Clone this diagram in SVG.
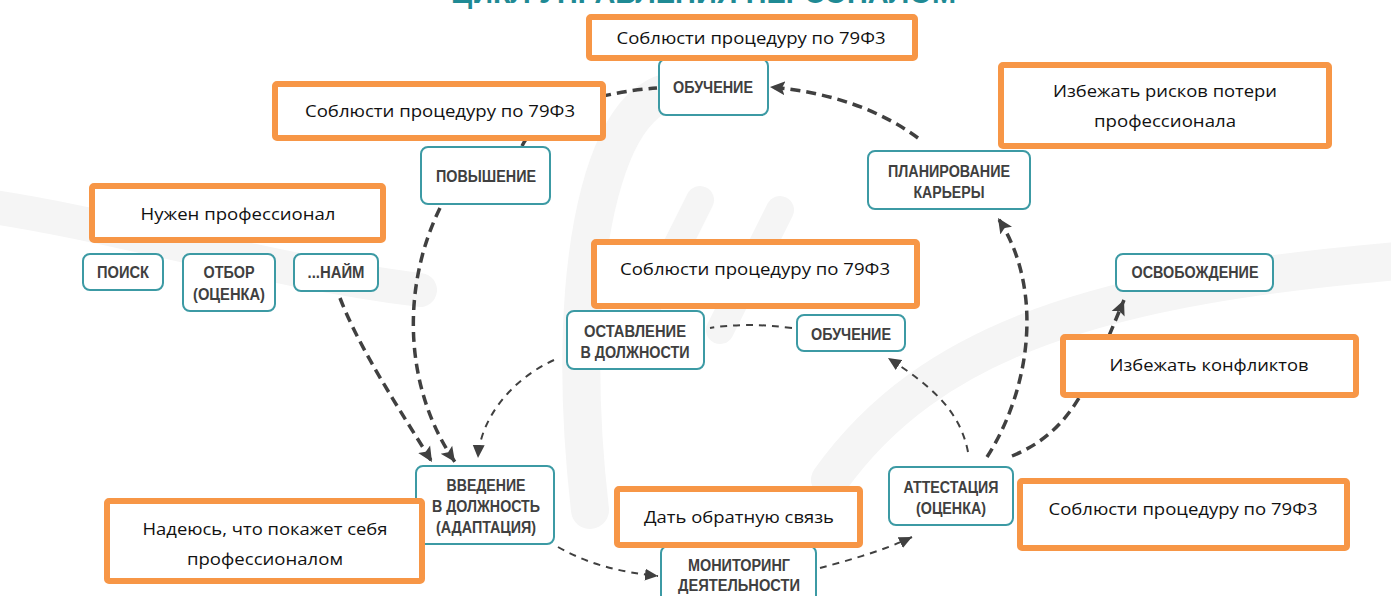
<svg xmlns="http://www.w3.org/2000/svg" width="1391" height="596" viewBox="0 0 1391 596">
<defs>
<style>
.bg{fill:none;stroke:#f5f5f5;stroke-linecap:round}
.node{fill:#fff;stroke:#3c9aa4;stroke-width:2}
.nt{font-family:"Liberation Sans",Arial,sans-serif;font-weight:bold;font-size:16px;fill:#404040;text-anchor:middle}
.ob{fill:#fff;stroke:#f79646;stroke-width:6}
.ot{font-family:"Open Sans","Liberation Sans",sans-serif;font-size:17px;fill:#111;text-anchor:middle}
.thick{fill:none;stroke:#404040;stroke-width:3.5;stroke-dasharray:10 6}
.thin{fill:none;stroke:#404040;stroke-width:2;stroke-dasharray:7 6}
.title{font-family:"Liberation Sans",Arial,sans-serif;font-weight:bold;font-size:30px;fill:#1f8a94}
</style>
<marker id="ah" markerUnits="userSpaceOnUse" markerWidth="16" markerHeight="16" refX="15" refY="8" orient="auto">
<path d="M0,1 L15,8 L0,15 L3,8 z" fill="#404040"/>
</marker>
<marker id="as" markerUnits="userSpaceOnUse" markerWidth="14" markerHeight="14" refX="13" refY="7" orient="auto">
<path d="M0,1 L13,7 L0,13 z" fill="#404040"/>
</marker>
</defs>
<rect width="1391" height="596" fill="#fff"/>
<g id="background">
<path class="bg" stroke-width="34" d="M -20 205 C 120 225, 260 270, 420 290"/>
<path class="bg" stroke-width="38" d="M 700 95 C 610 60, 560 250, 590 510"/>
<path class="bg" stroke-width="38" d="M 830 480 C 930 340, 1100 285, 1410 260"/>
<path class="bg" stroke-width="28" d="M 640 320 L 700 200"/>
<path class="bg" stroke-width="28" d="M 720 330 L 780 210"/>
</g>
<text class="title" x="451" y="3" textLength="505" lengthAdjust="spacingAndGlyphs">ЦИКЛ УПРАВЛЕНИЯ ПЕРСОНАЛОМ</text>
<g id="connectors">
<path class="thick" d="M 522 146 C 540 110, 600 92, 657 88"/>
<path class="thick" marker-end="url(#ah)" d="M 918 138 C 880 110, 830 92, 770 87"/>
<path class="thick" marker-end="url(#ah)" d="M 440 208 C 400 290, 405 390, 455 462"/>
<path class="thick" marker-end="url(#ah)" d="M 340 298 C 360 350, 400 410, 432 462"/>
<path class="thick" marker-end="url(#ah)" d="M 987 457 C 1030 390, 1045 290, 998 218"/>
<path class="thick" marker-end="url(#ah)" d="M 1012 456 C 1075 430, 1090 380, 1124 300"/>
<path class="thin" marker-end="url(#as)" d="M 558 547 C 590 565, 620 572, 658 576"/>
<path class="thin" marker-end="url(#as)" d="M 820 568 C 850 560, 885 550, 912 537"/>
<path class="thin" marker-end="url(#as)" d="M 554 360 C 510 380, 480 420, 478 458"/>
<path class="thin" d="M 792 328 C 760 324, 735 324, 710 328"/>
<path class="thin" marker-end="url(#as)" d="M 968 452 C 960 410, 930 385, 888 358"/>
</g>
<g id="n-obuchenie-top"><rect class="node" x="659" y="59" width="109" height="56" rx="7"/><text class="nt" x="713" y="93" textLength="80" lengthAdjust="spacingAndGlyphs">ОБУЧЕНИЕ</text></g>
<g id="n-povyshenie"><rect class="node" x="421" y="147" width="129" height="57" rx="7"/><text class="nt" x="486" y="182" textLength="100" lengthAdjust="spacingAndGlyphs">ПОВЫШЕНИЕ</text></g>
<g id="n-planirovanie"><rect class="node" x="868" y="151" width="162" height="58" rx="7"/><text class="nt" x="949" y="177" textLength="122" lengthAdjust="spacingAndGlyphs">ПЛАНИРОВАНИЕ</text><text class="nt" x="949" y="198" textLength="71" lengthAdjust="spacingAndGlyphs">КАРЬЕРЫ</text></g>
<g id="n-poisk"><rect class="node" x="83" y="254" width="80" height="36" rx="7"/><text class="nt" x="123" y="278" textLength="52" lengthAdjust="spacingAndGlyphs">ПОИСК</text></g>
<g id="n-otbor"><rect class="node" x="183" y="254" width="92" height="57" rx="7"/><text class="nt" x="229" y="278" textLength="51" lengthAdjust="spacingAndGlyphs">ОТБОР</text><text class="nt" x="229" y="300" textLength="72" lengthAdjust="spacingAndGlyphs">(ОЦЕНКА)</text></g>
<g id="n-naim"><rect class="node" x="294" y="254" width="84" height="37" rx="7"/><text class="nt" x="336" y="278" textLength="57" lengthAdjust="spacingAndGlyphs">...НАЙМ</text></g>
<g id="n-ostavlenie"><rect class="node" x="567" y="311" width="137" height="58" rx="7"/><text class="nt" x="635" y="337" textLength="102" lengthAdjust="spacingAndGlyphs">ОСТАВЛЕНИЕ</text><text class="nt" x="635" y="358" textLength="109" lengthAdjust="spacingAndGlyphs">В ДОЛЖНОСТИ</text></g>
<g id="n-obuchenie-mid"><rect class="node" x="797" y="315" width="108" height="36" rx="7"/><text class="nt" x="851" y="340" textLength="80" lengthAdjust="spacingAndGlyphs">ОБУЧЕНИЕ</text></g>
<g id="n-osvobozhdenie"><rect class="node" x="1116" y="254" width="157" height="37" rx="7"/><text class="nt" x="1195" y="278" textLength="127" lengthAdjust="spacingAndGlyphs">ОСВОБОЖДЕНИЕ</text></g>
<g id="n-vvedenie"><rect class="node" x="416" y="466" width="138" height="78" rx="7"/><text class="nt" x="486" y="491" textLength="79" lengthAdjust="spacingAndGlyphs">ВВЕДЕНИЕ</text><text class="nt" x="486" y="512" textLength="108" lengthAdjust="spacingAndGlyphs">В ДОЛЖНОСТЬ</text><text class="nt" x="486" y="533" textLength="100" lengthAdjust="spacingAndGlyphs">(АДАПТАЦИЯ)</text></g>
<g id="n-monitoring"><rect class="node" x="661" y="546" width="155" height="60" rx="7"/><text class="nt" x="739" y="571" textLength="102" lengthAdjust="spacingAndGlyphs">МОНИТОРИНГ</text><text class="nt" x="739" y="591" textLength="122" lengthAdjust="spacingAndGlyphs">ДЕЯТЕЛЬНОСТИ</text></g>
<g id="n-attestaciya"><rect class="node" x="889" y="467" width="124" height="58" rx="7"/><text class="nt" x="951" y="493" textLength="95" lengthAdjust="spacingAndGlyphs">АТТЕСТАЦИЯ</text><text class="nt" x="951" y="514" textLength="70" lengthAdjust="spacingAndGlyphs">(ОЦЕНКА)</text></g>
<g id="note-top"><rect class="ob" x="589" y="17" width="326" height="41" rx="2"/><text class="ot" x="751" y="44" textLength="269" lengthAdjust="spacingAndGlyphs">Соблюсти процедуру по 79Ф3</text></g>
<g id="note-left"><rect class="ob" x="275" y="84" width="328" height="54" rx="2"/><text class="ot" x="440" y="117" textLength="270" lengthAdjust="spacingAndGlyphs">Соблюсти процедуру по 79Ф3</text></g>
<g id="note-risk"><rect class="ob" x="1001" y="65" width="328" height="81" rx="2"/><text class="ot" x="1165" y="97" textLength="224" lengthAdjust="spacingAndGlyphs">Избежать рисков потери</text><text class="ot" x="1165" y="127" textLength="142" lengthAdjust="spacingAndGlyphs">профессионала</text></g>
<g id="note-need"><rect class="ob" x="92" y="186" width="291" height="54" rx="2"/><text class="ot" x="238" y="220" textLength="195" lengthAdjust="spacingAndGlyphs">Нужен профессионал</text></g>
<g id="note-mid"><rect class="ob" x="594" y="242" width="323" height="64" rx="2"/><text class="ot" x="755" y="275" textLength="270" lengthAdjust="spacingAndGlyphs">Соблюсти процедуру по 79Ф3</text></g>
<g id="note-conflict"><rect class="ob" x="1063" y="337" width="293" height="58" rx="2"/><text class="ot" x="1209" y="371" textLength="199" lengthAdjust="spacingAndGlyphs">Избежать конфликтов</text></g>
<g id="note-hope"><rect class="ob" x="107" y="501" width="315" height="80" rx="2"/><text class="ot" x="265" y="535" textLength="245" lengthAdjust="spacingAndGlyphs">Надеюсь, что покажет себя</text><text class="ot" x="265" y="565" textLength="156" lengthAdjust="spacingAndGlyphs">профессионалом</text></g>
<g id="note-feedback"><rect class="ob" x="617" y="489" width="243" height="56" rx="2"/><text class="ot" x="739" y="523" textLength="190" lengthAdjust="spacingAndGlyphs">Дать обратную связь</text></g>
<g id="note-right"><rect class="ob" x="1020" y="481" width="327" height="67" rx="2"/><text class="ot" x="1183" y="515" textLength="269" lengthAdjust="spacingAndGlyphs">Соблюсти процедуру по 79Ф3</text></g>
</svg>
